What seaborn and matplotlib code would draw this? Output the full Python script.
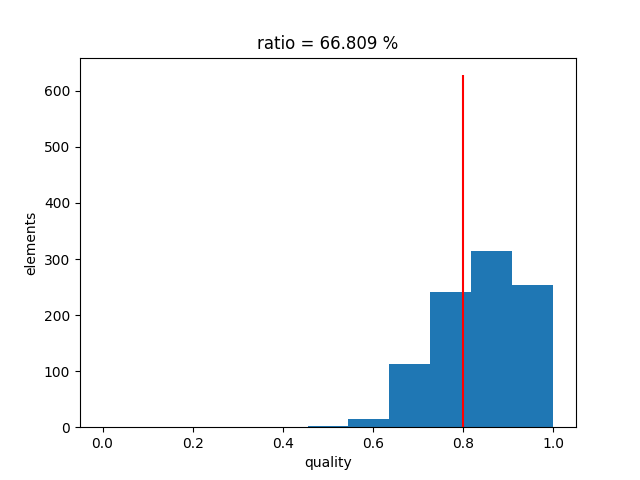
import numpy as np
import matplotlib
matplotlib.use("Agg")
import matplotlib.pyplot as plt
import seaborn as sns

edges = [k / 11 for k in range(12)]
counts = [0, 0, 0, 0, 0, 2, 14, 112, 241, 314, 253]
threshold = 0.8
line_height = 628
title = "ratio = 66.809 %"

centers = [(edges[i] + edges[i + 1]) / 2 for i in range(len(counts))]

fig, ax = plt.subplots(figsize=(6.4, 4.8), dpi=100)
sns.histplot(x=centers, weights=counts, bins=edges, color="#1f77b4", alpha=1,
             edgecolor="none", linewidth=0, ax=ax)
ax.vlines(threshold, 0, line_height, colors="red")
ax.set_xlim(-0.05, 1.05)
ax.set_title(title)
ax.set_xlabel("quality")
ax.set_ylabel("elements")
fig.savefig("out.png", dpi=100)
